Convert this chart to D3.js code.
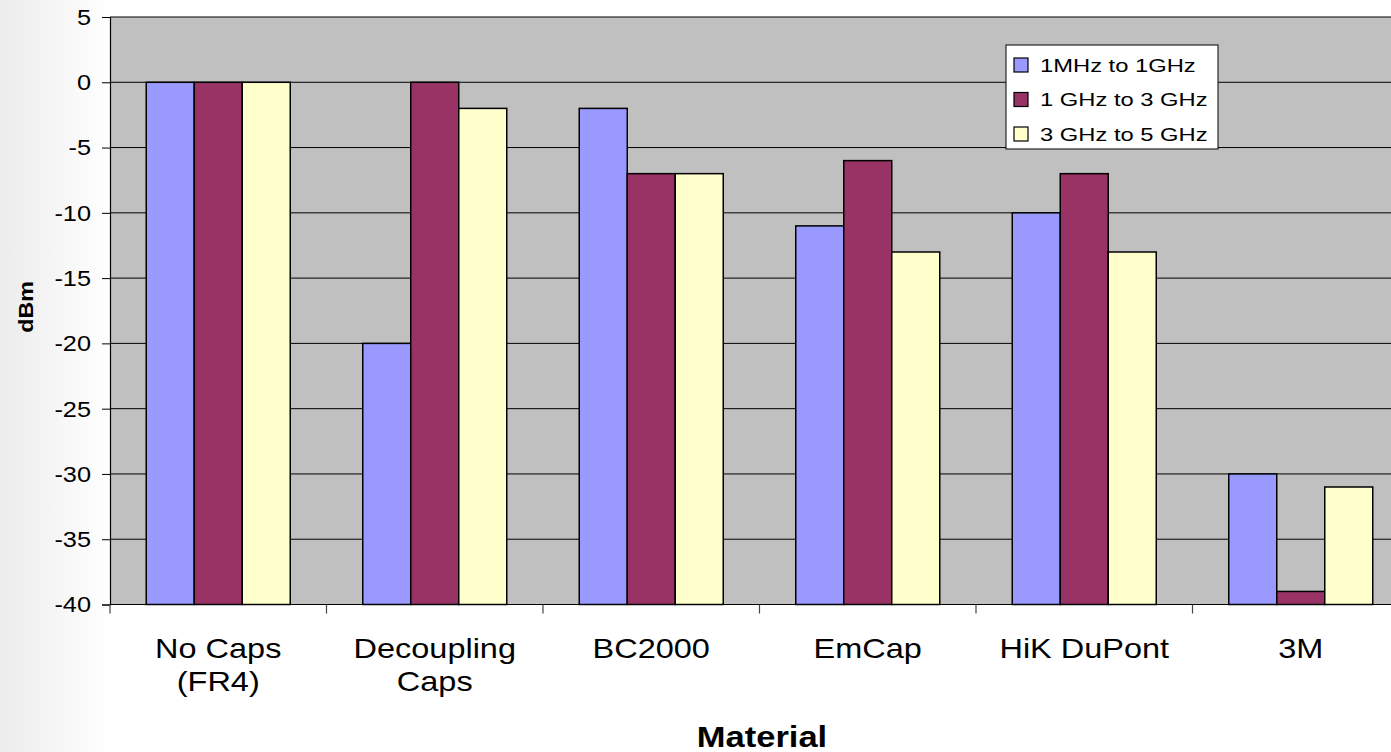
<!DOCTYPE html>
<html>
<head>
<meta charset="utf-8">
<script src="https://cdn.jsdelivr.net/npm/d3@7"></script>
<style>
  html, body { margin: 0; padding: 0; background: #fff; }
  svg { display: block; font-family: "Liberation Sans", Arial, sans-serif; }
</style>
</head>
<body>
<svg id="chart" width="1391" height="752"></svg>
<script>
// Materials along the x axis (line breaks split with "|")
const categories = ["No Caps|(FR4)", "Decoupling|Caps", "BC2000", "EmCap", "HiK DuPont", "3M"];
const seriesNames = ["1MHz to 1GHz", "1 GHz to 3 GHz", "3 GHz to 5 GHz"];
const band1 = [0, -20, -2, -11, -10, -30];
const band2 = [0, 0, -7, -6, -7, -39];
const band3 = [0, -2, -7, -13, -13, -31];
const yTicks = [5, 0, -5, -10, -15, -20, -25, -30, -35, -40];
const colors = ["#9999FF", "#993366", "#FFFFCC"];

const series = [band1, band2, band3];

const svg = d3.select("#chart");
const W = 1391, H = 752;

// text helper: places a label (optionally multi-line) and widens it horizontally
function label(parent, x, y, str, size, sx, opts = {}) {
  const t = parent.append("text")
    .attr("transform", `translate(${x},${y})${opts.rotate ? ` rotate(${opts.rotate})` : ""} scale(${sx},1)`)
    .attr("text-anchor", opts.anchor || "start")
    .attr("font-size", size)
    .attr("font-weight", opts.bold ? "bold" : "normal")
    .attr("fill", "#000");
  str.split("|").forEach((ln, i) => {
    t.append("tspan").attr("x", 0)
      .attr("dy", i === 0 ? (opts.dy || 0) : (opts.lineGap || 0))
      .text(ln);
  });
  return t;
}

// soft grey haze on the left edge of the page
const defs = svg.append("defs");
const grad = defs.append("linearGradient").attr("id", "haze").attr("x1", 0).attr("x2", 1).attr("y1", 0).attr("y2", 0);
grad.append("stop").attr("offset", 0).attr("stop-color", "#ececec");
grad.append("stop").attr("offset", 1).attr("stop-color", "#ffffff");
svg.append("rect").attr("x", 0).attr("y", 0).attr("width", 110).attr("height", H).attr("fill", "url(#haze)");

const m = { left: 110, top: 17, bottom: 604.5 };
const plotRight = m.left + 6 * 216.5;

const x = d3.scaleBand().domain(categories).range([m.left, plotRight]).paddingInner(0).paddingOuter(0);
const y = d3.scaleLinear().domain([-40, 5]).range([m.bottom, m.top]);
const inner = d3.scaleBand().domain(d3.range(3)).range([36.25, x.bandwidth() - 36.25]);

// plot background
svg.append("rect")
  .attr("x", m.left).attr("y", m.top)
  .attr("width", plotRight - m.left).attr("height", m.bottom - m.top)
  .attr("fill", "#C0C0C0");

// horizontal gridlines
svg.append("g").selectAll("line").data(yTicks.filter(t => t > -40)).join("line")
  .attr("x1", m.left).attr("x2", plotRight)
  .attr("y1", d => y(d)).attr("y2", d => y(d))
  .attr("stroke", "#000").attr("stroke-width", 1);

// bars rise from the -40 floor to each value
const groups = svg.append("g").selectAll("g").data(categories).join("g")
  .attr("transform", d => `translate(${x(d)},0)`);
groups.selectAll("rect").data((d, i) => series.map((s, k) => ({ k, v: s[i] }))).join("rect")
  .attr("x", d => inner(d.k))
  .attr("width", inner.bandwidth())
  .attr("y", d => y(d.v))
  .attr("height", d => y(-40) - y(d.v))
  .attr("fill", d => colors[d.k])
  .attr("stroke", "#000").attr("stroke-width", 1.5);

// y axis: line and ticks from d3, labels placed separately
const yAxis = svg.append("g").attr("transform", `translate(${m.left},0)`)
  .call(d3.axisLeft(y).tickValues(yTicks).tickSize(8).tickFormat(""));
yAxis.select(".domain").attr("stroke", "#000").attr("stroke-width", 1.2);
yAxis.selectAll(".tick line").attr("stroke", "#000");
const yLab = svg.append("g");
yTicks.forEach(t => label(yLab, 91, y(t), String(t), 22, 1.15, { anchor: "end", dy: "0.36em" }));

// x axis with ticks between categories
const xAxis = svg.append("g").attr("transform", `translate(0,${m.bottom})`);
xAxis.append("line").attr("x1", m.left).attr("x2", plotRight).attr("stroke", "#000").attr("stroke-width", 1.2);
xAxis.selectAll("line.tk").data(d3.range(7)).join("line").attr("class", "tk")
  .attr("x1", i => m.left + i * x.bandwidth()).attr("x2", i => m.left + i * x.bandwidth())
  .attr("y1", 0).attr("y2", 9).attr("stroke", "#444").attr("stroke-width", 1.2);

// category labels, one text element per category
const catG = svg.append("g");
categories.forEach(c => {
  label(catG, x(c) + x.bandwidth() / 2, 658, c, 28, 1.16, { anchor: "middle", lineGap: 33 });
});

// axis titles
label(svg, m.left + 3 * x.bandwidth() + 2.5, 747, "Material", 30, 1.15, { anchor: "middle", bold: true });
label(svg, 33, 307, "dBm", 20, 1.16, { anchor: "middle", bold: true, rotate: -90 });

// legend
const lg = svg.append("g").attr("transform", "translate(1006,45)");
lg.append("rect").attr("width", 212).attr("height", 104).attr("fill", "#fff").attr("stroke", "#000").attr("stroke-width", 1);
seriesNames.forEach((name, i) => {
  const cy = 20 + i * 34.5;
  lg.append("rect").attr("x", 8).attr("y", cy - 7).attr("width", 14).attr("height", 14)
    .attr("fill", colors[i]).attr("stroke", "#000").attr("stroke-width", 1.2);
  label(lg, 34, cy, name, 19, 1.25, { dy: "0.36em" });
});
</script>
</body>
</html>
